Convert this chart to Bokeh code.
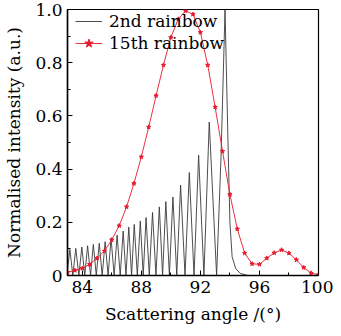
from bokeh.plotting import figure
from bokeh.models import FixedTicker, Range1d, Legend, LegendItem
from bokeh.embed import file_html
from bokeh.resources import INLINE

# ---- data ----
x_ticks = [84, 88, 92, 96, 100]
x_minor = [86, 90, 94, 98]
y_ticks = [0, 0.2, 0.4, 0.6, 0.8, 1.0]
y_tick_labels = ["0", "0.2", "0.4", "0.6", "0.8", "1.0"]
y_minor = [0.1, 0.3, 0.5, 0.7, 0.9]

# 2nd rainbow (peaks and troughs of the ripple structure)
second_x = [83.00, 83.16, 83.36, 83.56, 83.77, 83.97, 84.17, 84.36, 84.56, 84.75,
            84.95, 85.15, 85.35, 85.55, 85.75, 85.95, 86.16, 86.36, 86.57, 86.77,
            86.96, 87.15, 87.34, 87.52, 87.73, 87.93, 88.13, 88.32, 88.54, 88.76,
            88.99, 89.22, 89.44, 89.66, 89.90, 90.14, 90.40, 90.66, 90.96, 91.25,
            91.57, 91.88, 92.24, 92.60, 93.10, 93.40, 93.67, 93.85, 94.00, 94.15,
            94.40, 94.70, 95.20, 100.0]
second_y = [0.020, 0.098, 0.0, 0.102, 0.0, 0.107, 0.0, 0.112, 0.0, 0.117,
            0.0, 0.121, 0.0, 0.127, 0.0, 0.140, 0.0, 0.152, 0.0, 0.167,
            0.0, 0.182, 0.0, 0.192, 0.0, 0.205, 0.0, 0.218, 0.0, 0.237,
            0.0, 0.258, 0.0, 0.278, 0.0, 0.295, 0.0, 0.340, 0.0, 0.387,
            0.0, 0.452, 0.0, 0.577, 0.0, 0.450, 1.0, 0.550, 0.200, 0.070,
            0.025, 0.008, 0.0, 0.0]

# 15th rainbow
fifteenth_x = [83.0, 83.5, 84.0, 84.5, 85.0, 85.5, 86.0, 86.5, 87.0, 87.5,
               88.0, 88.5, 89.0, 89.5, 90.0, 90.5, 91.0, 91.5, 92.0, 92.5,
               93.0, 93.5, 94.0, 94.5, 95.0, 95.5, 96.0, 96.5, 97.0, 97.5,
               98.0, 98.5, 99.0, 99.5, 100.0]
fifteenth_y = [0.012, 0.019, 0.027, 0.042, 0.065, 0.092, 0.134, 0.187, 0.258, 0.346,
               0.446, 0.558, 0.676, 0.791, 0.895, 0.964, 0.995, 0.982, 0.914, 0.791,
               0.633, 0.467, 0.305, 0.175, 0.084, 0.044, 0.042, 0.065, 0.085, 0.096,
               0.084, 0.059, 0.030, 0.009, 0.003]

FONT = "DejaVu Serif, serif"
FS = "17px"

p = figure(width=333, height=326, output_backend="svg", toolbar_location=None,
           x_range=Range1d(83, 100), y_range=Range1d(0, 1.0),
           min_border_left=67, min_border_right=15, min_border_top=9, min_border_bottom=50)
p.background_fill_color = "white"
p.border_fill_color = "white"
p.xgrid.visible = False
p.ygrid.visible = False
p.outline_line_color = "black"
p.outline_line_width = 1.2

p.xaxis.ticker = FixedTicker(ticks=x_ticks, minor_ticks=x_minor)
p.yaxis.ticker = FixedTicker(ticks=y_ticks, minor_ticks=y_minor)
p.yaxis.major_label_overrides = {t: l for t, l in zip(y_ticks, y_tick_labels)}

for ax in (p.xaxis[0], p.yaxis[0]):
    ax.axis_line_width = 1.5
    ax.axis_line_color = "black"
    ax.major_tick_in = 5
    ax.major_tick_out = 0
    ax.minor_tick_in = 3
    ax.minor_tick_out = 0
    ax.major_tick_line_color = "black"
    ax.minor_tick_line_color = "black"
    ax.major_label_text_font = FONT
    ax.major_label_text_font_size = FS
    ax.major_label_text_color = "black"
    ax.axis_label_text_font = FONT
    ax.axis_label_text_font_size = FS
    ax.axis_label_text_font_style = "normal"
    ax.axis_label_text_color = "black"
    ax.major_label_standoff = 5
    ax.axis_label_standoff = 8

p.xaxis.axis_label = "Scattering angle /(°)"
p.yaxis.axis_label = "Normalised intensity (a.u.)"

l1 = p.line(second_x, second_y, line_color="#3a3a3a", line_width=0.9)
l2 = p.line(fifteenth_x, fifteenth_y, line_color="#e8192c", line_width=0.9)
s2 = p.scatter(fifteenth_x, fifteenth_y, marker="star", size=4.5,
               fill_color="#e8192c", line_color="#e8192c")

legend = Legend(items=[LegendItem(label="2nd rainbow", renderers=[l1]),
                       LegendItem(label="15th rainbow", renderers=[l2, s2])],
                location=(8, 221), margin=0, padding=0, spacing=0,
                label_height=22, glyph_height=22, glyph_width=27, label_standoff=7,
                label_text_font=FONT, label_text_font_size=FS, label_text_color="black",
                background_fill_alpha=0, border_line_alpha=0)
p.add_layout(legend)

open("out.html", "w").write(file_html(p, INLINE))
